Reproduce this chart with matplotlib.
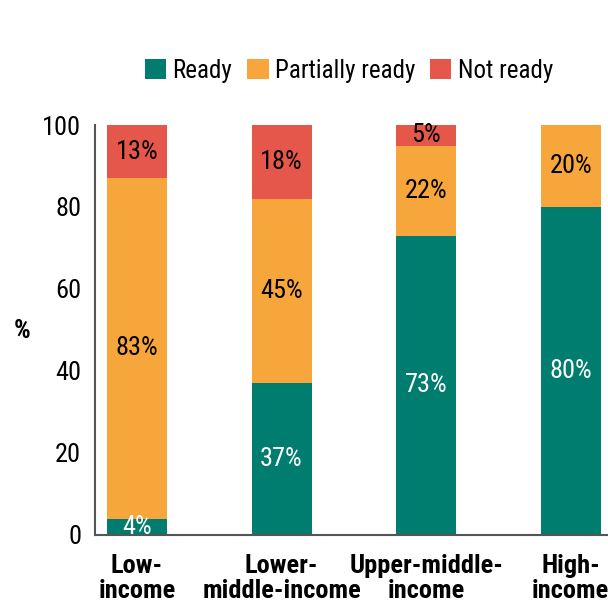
import matplotlib
matplotlib.use("Agg")
import matplotlib.pyplot as plt

categories = ["Low-\nincome", "Lower-\nmiddle-income", "Upper-middle-\nincome", "High-\nincome"]
ready = [4, 37, 73, 80]
partial = [83, 45, 22, 20]
not_ready = [13, 18, 5, 0]
series_names = ["Ready", "Partially ready", "Not ready"]
colors = ["#007D6E", "#F7A63B", "#E5574A"]
yticks = [0, 20, 40, 60, 80, 100]

plt.rcParams['font.family'] = ["Roboto Condensed", 'DejaVu Sans']
FS = 19

fig = plt.figure(figsize=(6.08, 6.06), dpi=100)
ax = fig.add_axes([95/608, 1-535/606, 548/608, 410/606])

x = list(range(len(categories)))
w = 0.415
bottoms = [0]*len(x)
for vals, name, col in zip([ready, partial, not_ready], series_names, colors):
    ax.bar(x, vals, w, bottom=bottoms, color=col, label=name, linewidth=0)
    for i, v in enumerate(vals):
        if v > 0:
            tc = "white" if col == colors[0] else "black"
            ax.text(x[i], bottoms[i] + v/2, f"{v}%", ha="center", va="center",
                    fontsize=FS, color=tc)
    bottoms = [b + v for b, v in zip(bottoms, vals)]

ax.set_xlim(-0.29, 3.5)
ax.set_ylim(0, 100)
ax.set_yticks(yticks)
ax.set_yticklabels([str(t) for t in yticks], fontsize=FS)
ax.set_xticks(x)
ax.set_xticklabels(categories, fontsize=FS, fontweight="bold", linespacing=1.05)
ax.tick_params(axis="both", length=0)
ax.tick_params(axis="y", pad=10)
ax.tick_params(axis="x", pad=14)
for s in ["top", "right"]:
    ax.spines[s].set_visible(False)
for s in ["left", "bottom"]:
    ax.spines[s].set_color("#555555")
    ax.spines[s].set_linewidth(1.5)

fig.text(22/608, 1-331/606, "%", fontsize=FS, fontweight="bold", ha="center", va="center")

fig.legend(loc="center", bbox_to_anchor=(349/608, 1-71/606), ncol=3, frameon=False,
           fontsize=18, handlelength=0.85, handleheight=0.85, handletextpad=0.25,
           columnspacing=0.6, borderaxespad=0)

fig.savefig("out.png", dpi=100)
